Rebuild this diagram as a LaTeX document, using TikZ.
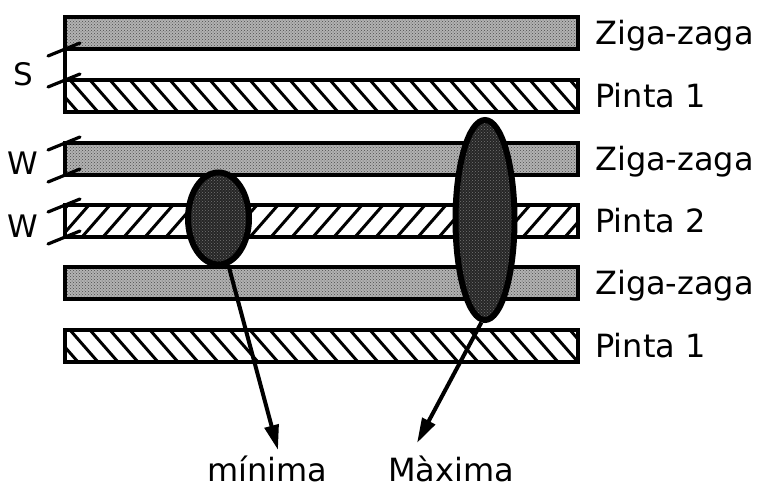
\documentclass[tikz,border=0pt]{standalone}
\usepackage{fontspec}
\setmainfont{DejaVu Sans}
\usetikzlibrary{patterns,shapes.geometric,arrows.meta}
\begin{document}
\begin{tikzpicture}[x=1pt,y=-1pt,
  bar/.style={draw=black,line width=3.2pt},
  hatchln/.style={line width=3pt},
  brk/.style={line width=3.2pt,line cap=round},
  lab/.style={anchor=base west,inner sep=0pt,font=\fontsize{32}{32}\selectfont},
  sidelab/.style={anchor=center,inner sep=0pt,font=\fontsize{31}{31}\selectfont},
  blob/.style={ellipse,draw=black,line width=6pt,inner sep=0pt,
    preaction={fill=black!85},pattern=crosshatch dots,pattern color=black!55},
  arr/.style={line width=4pt,-{Triangle[length=25pt,width=14pt]}}]
\useasboundingbox (0,0) rectangle (760,488);
% Ziga-zaga bars
\foreach \t in {17,143,267}{
  \fill[black!30] (65,\t) rectangle (578,\t+32);
  \fill[pattern=crosshatch dots,pattern color=black!70] (65,\t) rectangle (578,\t+32);
  \draw[bar] (65,\t) rectangle (578,\t+32);
}
% Pinta 1 bars (\ hatch)
\foreach \t in {80,330}{
  \begin{scope}
    \clip (65,\t) rectangle (578,\t+32);
    \foreach \x in {30,50,...,590} \draw[hatchln] (\x,\t) -- (\x+28,\t+32);
  \end{scope}
  \draw[bar] (65,\t) rectangle (578,\t+32);
}
% Pinta 2 bar (/ hatch)
\begin{scope}
  \clip (65,205) rectangle (578,237);
  \foreach \x in {40,61,...,600} \draw[hatchln] (\x,237) -- (\x+28,205);
\end{scope}
\draw[bar] (65,205) rectangle (578,237);
% break marks
\draw[line width=3.2pt] (65,49) -- (65,80);
\foreach \y in {49,80,143,175,205,237}
  \draw[brk] (48,\y+7) -- (80,\y-6);
% side labels
\node[sidelab] (ls) at (23,74) {S};
\node[sidelab] (lw1) at (23,163) {W};
\node[sidelab] (lw2) at (23,226) {W};
% right labels
\node[lab] (r1) at (595,44) {Ziga-zaga};
\node[lab] (r2) at (595,107) {Pinta 1};
\node[lab] (r3) at (595,170) {Ziga-zaga};
\node[lab] (r4) at (595,232) {Pinta 2};
\node[lab] (r5) at (595,294) {Ziga-zaga};
\node[lab] (r6) at (595,357) {Pinta 1};
% ellipses
\node[blob,minimum width=61pt,minimum height=92pt] (minE) at (218.5,218.5) {};
\node[blob,minimum width=59pt,minimum height=200pt] (maxE) at (485,220) {};
% bottom labels
\node[lab] (lmin) at (207,481) {mínima};
\node[lab] (lmax) at (388,481) {Màxima};
% arrows
\coordinate (minTip) at (278,450);
\coordinate (maxTip) at (417,443);
\draw[arr] (minE.-78) -- (minTip);
\draw[arr] (maxE.-92) -- (maxTip);
\end{tikzpicture}
\end{document}
